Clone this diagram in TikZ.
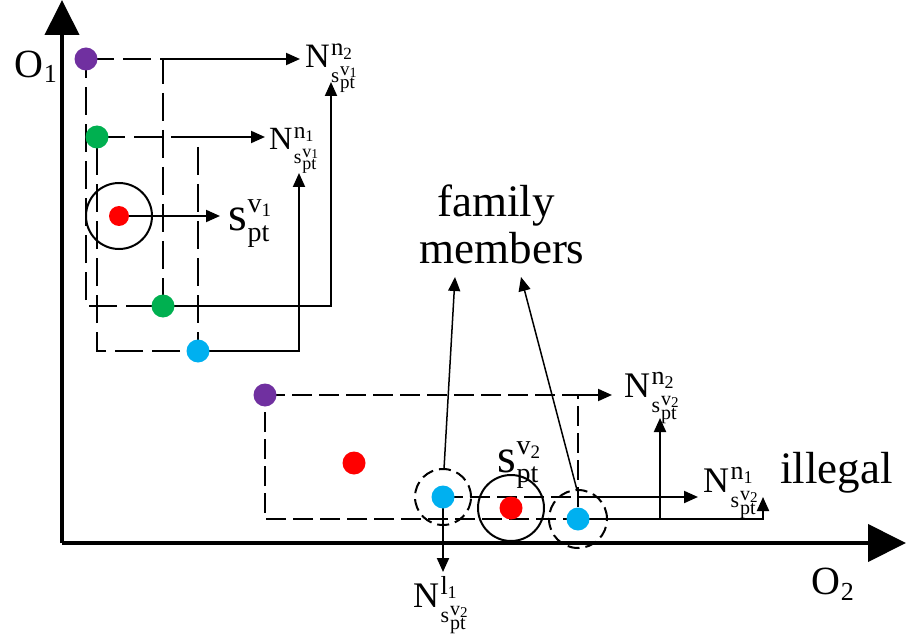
\documentclass[tikz,border=0pt]{standalone}
\usepackage{fontspec}
\usepackage{graphicx}
\setmainfont{Liberation Serif}
\usetikzlibrary{arrows.meta}
\definecolor{cpurple}{HTML}{7030A0}
\definecolor{cgreen}{HTML}{00B050}
\definecolor{cblue}{HTML}{00B0F0}
\definecolor{cred}{HTML}{FF0000}
\newcommand{\fsz}[1]{\fontsize{#1}{#1}\selectfont}
\newcommand{\smallS}[1]{{\fsz{22}s}\kern1pt\rlap{\raisebox{7pt}{\fsz{20}v\raisebox{-2pt}{\fsz{15}#1}}}\raisebox{-7pt}{\fsz{20}pt}}
\newcommand{\Nlab}[3]{{\fsz{36}N}\kern1.5pt\rlap{\raisebox{13pt}{\fsz{26}#1\raisebox{-4pt}{\fsz{18}#2}}}\raisebox{-15pt}{\smallS{#3}}}
\newcommand{\bigS}[1]{{\fsz{48}s}\kern1pt\rlap{\raisebox{18pt}{\fsz{28}v\raisebox{-4pt}{\fsz{19}#1}}}\raisebox{-10pt}{\fsz{28}pt}}
\begin{document}
\begin{tikzpicture}[x=1pt,y=-1pt,line width=2pt,
  dotn/.style={circle,inner sep=0pt,minimum size=23pt},
  dashA/.style={dash pattern=on 28pt off 9pt},
  dashB/.style={dash pattern=on 20pt off 7pt},
  dashC/.style={dash pattern=on 12pt off 6pt},
  arr/.style={-{Triangle[length=14pt,width=12pt]}},
  lab/.style={anchor=base west,inner sep=0pt}]
\useasboundingbox (0,0) rectangle (912,644);
% coordinates
\coordinate (origin) at (62,543);
\coordinate (ytip) at (62,0);
\coordinate (xtip) at (906,543);
\coordinate (P1) at (86,59);
\coordinate (G1) at (163,306);
\coordinate (P1G1a) at (163,59);
\coordinate (P1G1b) at (86,306);
\coordinate (G2) at (97,137);
\coordinate (B1) at (198,351);
\coordinate (G2B1a) at (198,137);
\coordinate (G2B1b) at (97,351);
\coordinate (R1) at (119,216);
\coordinate (P2) at (265,395);
\coordinate (B3) at (578,519);
\coordinate (P2a) at (578,395);
\coordinate (P2b) at (265,519);
\coordinate (B2) at (443,497);
\coordinate (B2a) at (578,497);
\coordinate (R2) at (511,508);
\coordinate (R3) at (354,463);
\coordinate (J) at (660,519);
\coordinate (tNa1) at (300,59);
\coordinate (tNa2) at (331,82);
\coordinate (tNb1) at (265,137);
\coordinate (tNb2) at (299,173);
\coordinate (tS1) at (220,216);
\coordinate (tNc1) at (612,395);
\coordinate (tNc2) at (660,418);
\coordinate (tNd1) at (698,497);
\coordinate (tNd2) at (763,497);
\coordinate (tNe) at (443,572);
\coordinate (tF1) at (455,277);
\coordinate (tF2) at (521,277);
\coordinate (F1s) at (444,469);
\coordinate (F2s) at (577,490);
% axes
\draw[line width=4pt,-{Triangle[length=35pt,width=34pt]}] (origin) -- (ytip);
\draw[line width=4pt,-{Triangle[length=38pt,width=37pt]}] (origin) -- (xtip);
% top-left cluster
\draw[dashA] (P1) -- (P1G1a) -- (G1) -- (P1G1b) -- cycle;
\draw[arr] (P1G1a) -- (tNa1);
\draw[arr] (G1) -| (tNa2);
\draw[dashA] (G2) -- (G2B1a) -- (B1) -- (G2B1b) -- cycle;
\draw[arr] (G2B1a) -- (tNb1);
\draw[arr] (B1) -| (tNb2);
\draw (R1) circle[radius=33pt];
\draw[arr] (R1) -- (tS1);
% bottom cluster
\draw[dashB] (P2) -- (P2a) -- (B3) -- (P2b) -- cycle;
\draw[arr] (P2a) -- (tNc1);
\draw[arr] (B3) -| (tNd2);
\draw[arr] (J) -- (tNc2);
\draw[dashB] (B2) -- (B2a);
\draw[arr] (B2a) -- (tNd1);
\draw[arr] (B2) -- (tNe);
\draw[dashC] (B2) circle[radius=28pt];
\draw[dashC] (B3) circle[radius=29pt];
\draw (R2) circle[radius=33pt];
\draw[arr,line width=1.5pt] (F1s) -- (tF1);
\draw[arr,line width=1.5pt] (F2s) -- (tF2);
% dots
\node[dotn,fill=cpurple] (dP1) at (P1) {};
\node[dotn,fill=cgreen] (dG1) at (G1) {};
\node[dotn,fill=cgreen] (dG2) at (G2) {};
\node[dotn,fill=cblue] (dB1) at (B1) {};
\node[dotn,fill=cred,minimum size=20pt] (dR1) at (R1) {};
\node[dotn,fill=cpurple] (dP2) at (P2) {};
\node[dotn,fill=cblue] (dB2) at (B2) {};
\node[dotn,fill=cblue] (dB3) at (B3) {};
\node[dotn,fill=cred] (dR2) at (R2) {};
\node[dotn,fill=cred] (dR3) at (R3) {};
% labels
\node[lab] (O1) at (13,78) {\fsz{40}O\kern1pt\raisebox{-5pt}{\fsz{26}1}};
\node[lab] (O2) at (810,594) {\fsz{40}O\kern1pt\raisebox{-6pt}{\fsz{26}2}};
\node[lab] (Na) at (304,68) {\scalebox{0.95}{\Nlab{n}{2}{1}}};
\node[lab] (Nb) at (268,150) {\scalebox{0.9}{\Nlab{n}{1}{1}}};
\node[lab] (Nc) at (623,397) {\Nlab{n}{2}{2}};
\node[lab] (Nd) at (702,492) {\Nlab{n}{1}{2}};
\node[lab] (Ne) at (412,607) {\Nlab{l}{1}{2}};
\node[lab] (S1) at (227,231) {\bigS{1}};
\node[lab] (S2) at (496,472) {\bigS{2}};
\node[anchor=base,inner sep=0pt,font=\fsz{45}] (fam1) at (496,217) {family};
\node[anchor=base,inner sep=0pt,font=\fsz{45}] (fam2) at (502,263) {members};
\node[lab,font=\fsz{45}] (ill) at (779,483) {illegal};
\end{tikzpicture}
\end{document}
